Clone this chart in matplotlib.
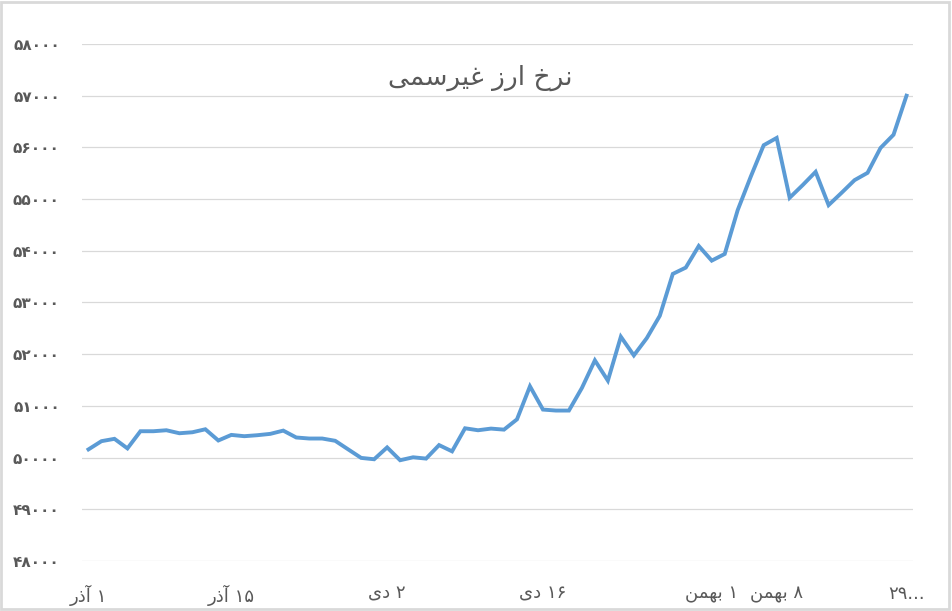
import numpy as np
import matplotlib
matplotlib.use("Agg")
import matplotlib.pyplot as plt
from matplotlib.patches import Rectangle

# daily rate values (64 points)
rates = [50159, 50318, 50363, 50178, 50510, 50510, 50529, 50471, 50490, 50548,
         50331, 50439, 50414, 50433, 50459, 50522, 50389, 50369, 50369, 50325,
         50159, 49994, 49968, 50197, 49949, 50006, 49981, 50242, 50121, 50567,
         50529, 50561, 50541, 50740, 51379, 50929, 50910, 50910, 51347, 51881,
         51489, 52338, 51977, 52312, 52743, 53553, 53675, 54093, 53810, 53939,
         54788, 55431, 56042, 56183, 55026, 55270, 55527, 54884, 55122, 55367,
         55508, 55990, 56245, 57000]

# category positions that carry a label and the labels (pre-shaped, visual order)
label_pos = [0, 11, 23, 35, 48, 53, 63]
label_txt = ["\ufead\ufeab\ufe81 \u06f1",
             "\ufead\ufeab\ufe81 \u06f1\u06f5",
             "\ufeef\ufea9 \u06f2",
             "\ufeef\ufea9 \u06f1\u06f6",
             "\ufee6\ufee4\ufeec\ufe91 \u06f1",
             "\ufee6\ufee4\ufeec\ufe91 \u06f8",
             "\u06f2\u06f9..."]

yticks = np.arange(48000, 58001, 1000)
title = "\ufef0\ufee4\ufeb3\ufeae\ufef4\ufecf \ufeaf\ufead\ufe8d \ufea5\ufeae\ufee7"

fa_digits = str.maketrans("0123456789", "\u06f0\u06f1\u06f2\u06f3\u06f4\u06f5\u06f6\u06f7\u06f8\u06f9")

fig = plt.figure(figsize=(9.52, 6.11), dpi=100)
ax = fig.add_axes([82/952, 1 - 561/611, (913-82)/952, (561-44)/611])

x = np.arange(len(rates))
ax.plot(x, rates, color="#5B9BD5", lw=2.8, solid_joinstyle="miter")

ax.set_xlim(-0.5, len(rates) - 0.5)
ax.set_ylim(48000, 58000)
ax.set_yticks(yticks)
ax.set_yticklabels([str(v).translate(fa_digits) for v in yticks],
                   fontsize=11, color="#595959", fontweight="bold")
ax.set_xticks(label_pos)
ax.set_xticklabels(label_txt, fontsize=13, color="#595959")
ax.tick_params(axis="y", length=0, pad=16)
ax.tick_params(axis="x", length=0, pad=17)
ax.grid(axis="y", color="#D9D9D9", lw=0.9)
ax.set_axisbelow(True)
for s in ax.spines.values():
    s.set_visible(False)

fig.text(480/952, 1 - 78/611, title, fontsize=19, color="#595959",
         ha="center", va="center")

# chart border
fig.patches.append(Rectangle((0.001, 0.003), 0.996, 0.994, transform=fig.transFigure,
                             fill=False, edgecolor="#D9D9D9", lw=2))

fig.savefig("out.png", dpi=100)
